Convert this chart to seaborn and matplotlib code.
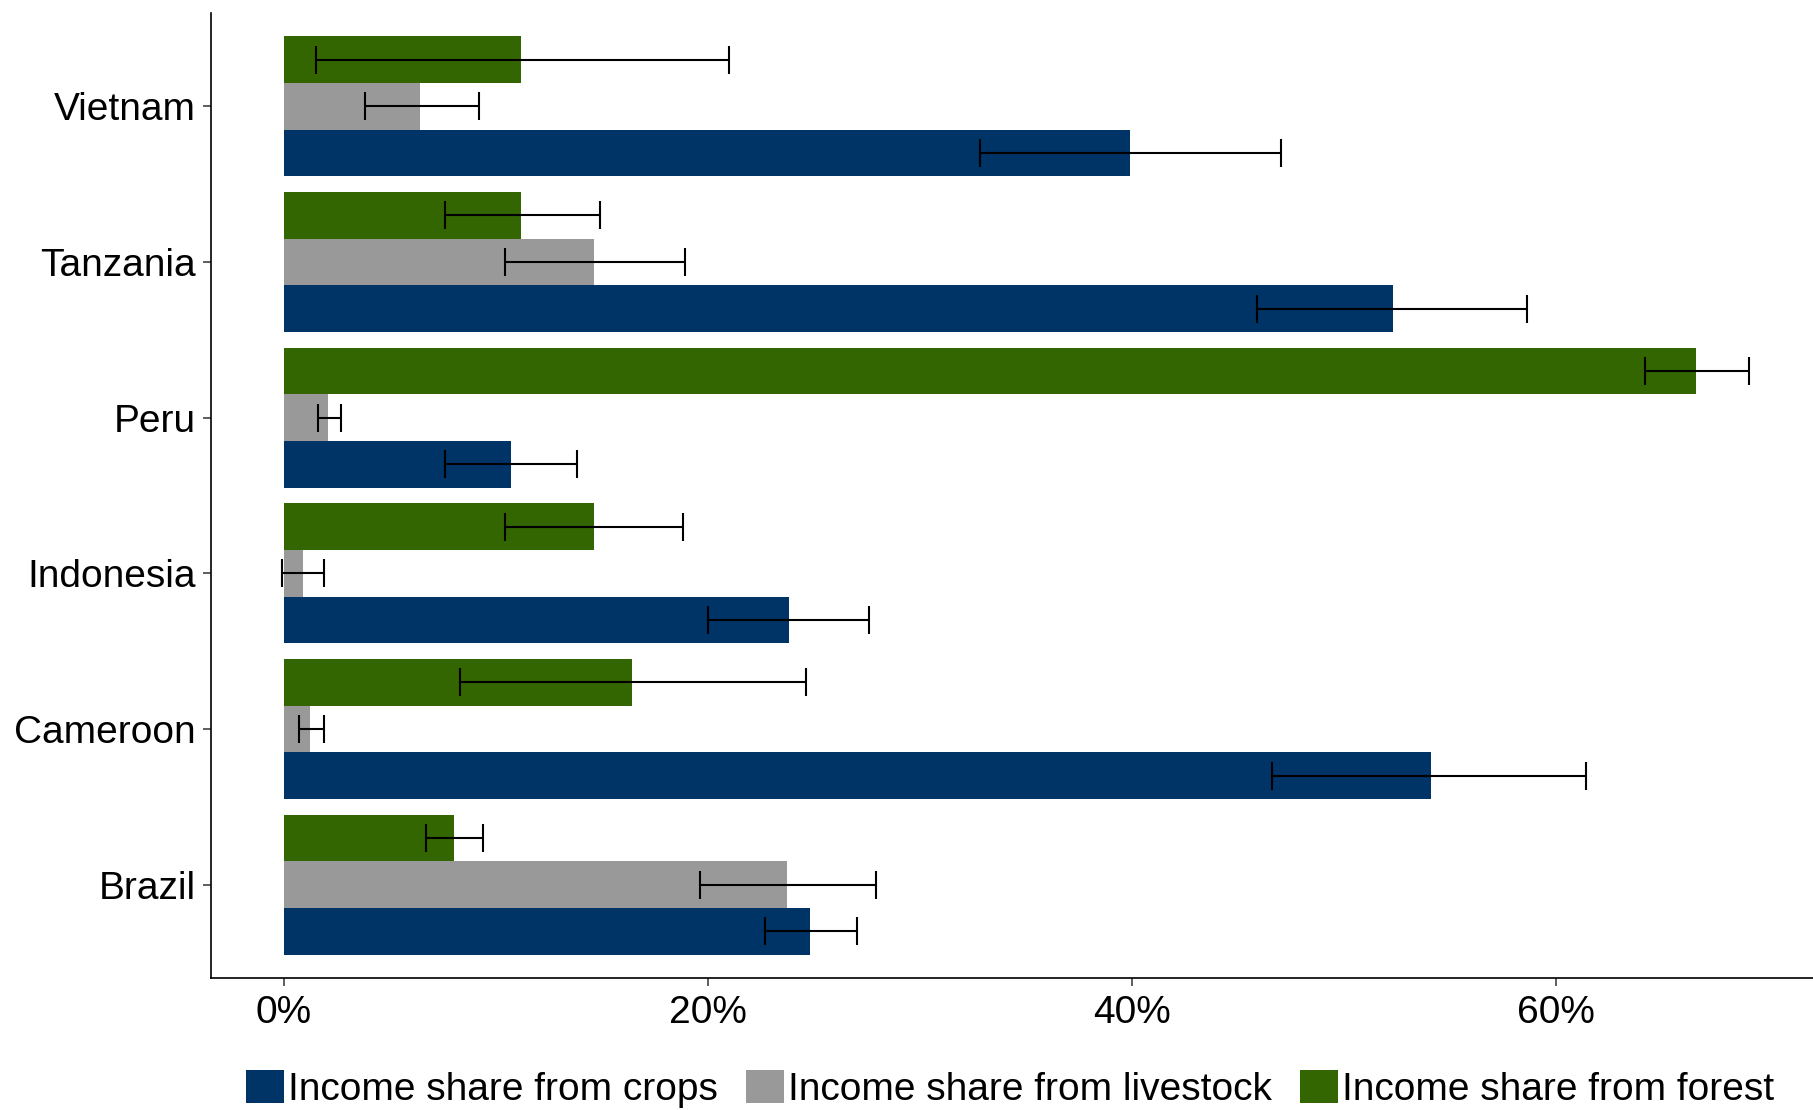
import numpy as np
import pandas as pd
import matplotlib
matplotlib.use("Agg")
import matplotlib.pyplot as plt
from matplotlib.ticker import PercentFormatter
import seaborn as sns

# Mean income shares (%) by country, with 95% interval bounds
countries = ["Vietnam", "Tanzania", "Peru", "Indonesia", "Cameroon", "Brazil"]

crops = [39.9, 52.3, 10.7, 23.8, 54.1, 24.8]
crops_lo = [32.8, 45.9, 7.6, 20.0, 46.6, 22.7]
crops_hi = [47.0, 58.6, 13.8, 27.6, 61.4, 27.0]

livestock = [6.4, 14.6, 2.1, 0.9, 1.25, 23.7]
livestock_lo = [3.8, 10.4, 1.6, -0.1, 0.7, 19.6]
livestock_hi = [9.2, 18.9, 2.7, 1.9, 1.9, 27.9]

forest = [11.2, 11.2, 66.6, 14.6, 16.4, 8.0]
forest_lo = [1.5, 7.6, 64.2, 10.4, 8.3, 6.7]
forest_hi = [21.0, 14.9, 69.1, 18.8, 24.6, 9.4]

series_names = [
    "Income share from crops",
    "Income share from livestock",
    "Income share from forest",
]
series_colors = ["#003366", "#999999", "#336600"]

values = {series_names[0]: crops, series_names[1]: livestock, series_names[2]: forest}
lows = {series_names[0]: crops_lo, series_names[1]: livestock_lo, series_names[2]: forest_lo}
highs = {series_names[0]: crops_hi, series_names[1]: livestock_hi, series_names[2]: forest_hi}

rows = []
for name in series_names:
    for c, v, lo, hi in zip(countries, values[name], lows[name], highs[name]):
        rows.append({"country": c, "source": name, "share": v, "lo": lo, "hi": hi})
df = pd.DataFrame(rows)

sns.set_theme(style="white")
plt.rcParams["font.family"] = ["Liberation Sans", "DejaVu Sans"]
plt.rcParams["text.color"] = "black"

fig = plt.figure(figsize=(18.13, 11.10), dpi=100)
ax = fig.add_axes([211 / 1813, 1 - 978 / 1110, 1 - 211 / 1813, (978 - 13) / 1110])

# forest on top of each group, crops at the bottom
draw_order = series_names[::-1]
palette = dict(zip(series_names, series_colors))

sns.barplot(
    data=df, y="country", x="share", hue="source",
    order=countries, hue_order=draw_order, palette=palette,
    orient="h", width=0.9, errorbar=None, saturation=1, ax=ax,
    linewidth=0,
)

# interval bars at each bar's centre
for name, container in zip(draw_order, ax.containers):
    sub = df[df["source"] == name].set_index("country").loc[countries]
    ys = [p.get_y() + p.get_height() / 2 for p in container.patches]
    xs = sub["share"].to_numpy()
    err = np.vstack([xs - sub["lo"].to_numpy(), sub["hi"].to_numpy() - xs])
    ax.errorbar(xs, ys, xerr=err, fmt="none", ecolor="black",
                elinewidth=1.5, capsize=10, capthick=1.5, zorder=5)

ax.set_xlim(-3.44, 72.1)
ax.set_ylim(5.6, -0.6)
ax.xaxis.set_major_formatter(PercentFormatter(xmax=100, decimals=0))
ax.set_xticks([0, 20, 40, 60])
ax.set_xlabel("")
ax.set_ylabel("")

for side in ["top", "right"]:
    ax.spines[side].set_visible(False)
for side in ["left", "bottom"]:
    ax.spines[side].set_color("black")
    ax.spines[side].set_linewidth(1.2)

ax.tick_params(axis="both", which="major", labelsize=28, length=6,
               width=1.1, color="#333333", labelcolor="black",
               left=True, bottom=True)
ax.tick_params(axis="y", pad=5)
ax.tick_params(axis="x", pad=6)

handles, labels = ax.get_legend_handles_labels()
lab2h = dict(zip(labels, handles))
if ax.get_legend() is not None:
    ax.get_legend().remove()
leg = fig.legend(
    [lab2h[n] for n in series_names], series_names,
    loc="center", bbox_to_anchor=(1010 / 1813, 1 - 1089 / 1110),
    ncol=3, frameon=False, fontsize=28,
    handlelength=0.98, handleheight=0.95, handletextpad=0.1,
    columnspacing=0.72, borderaxespad=0, borderpad=0,
)
for t in leg.get_texts():
    t.set_color("black")

fig.savefig("out.png", dpi=100)
